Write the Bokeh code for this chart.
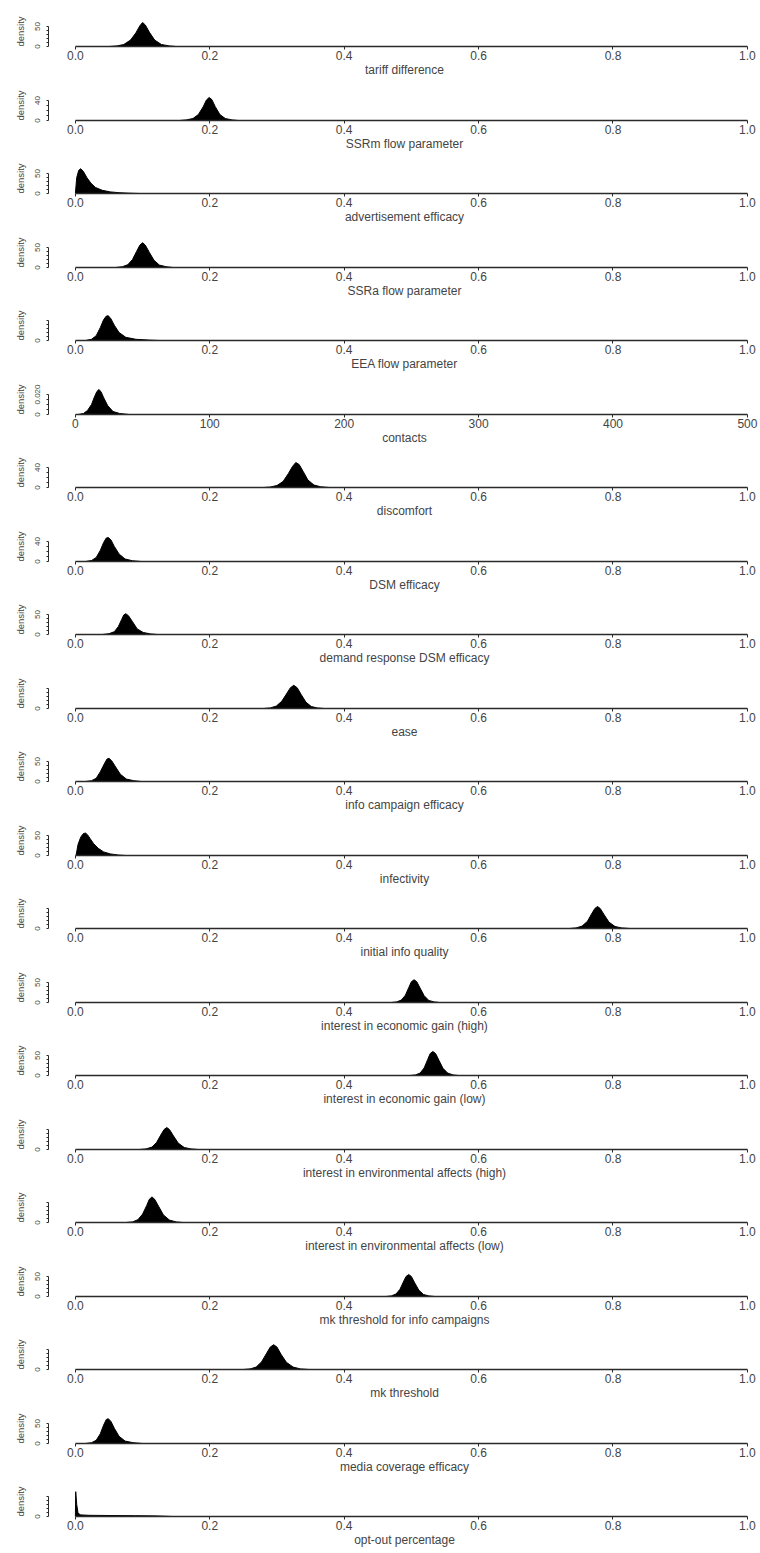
import math
from bokeh.plotting import figure
from bokeh.layouts import column
from bokeh.models import Range1d, FixedTicker
from bokeh.embed import file_html
from bokeh.resources import INLINE

# ---- posterior density estimates for each model parameter ----
tariff_x = [0.050, 0.062, 0.072, 0.082, 0.090, 0.096, 0.100, 0.104, 0.110, 0.118, 0.128, 0.140, 0.150]
tariff_y = [0, 1.5, 5, 16, 34, 52, 60, 54, 36, 16, 5, 1.5, 0]

ssrm_x = [0.155, 0.165, 0.175, 0.183, 0.190, 0.195, 0.199, 0.203, 0.208, 0.215, 0.223, 0.233, 0.243]
ssrm_y = [0, 1.2, 4, 12, 27, 41, 46, 42, 28, 12, 4, 1.2, 0]

advert_x = [0.000, 0.002, 0.005, 0.008, 0.012, 0.017, 0.023, 0.030, 0.040, 0.052, 0.065, 0.080, 0.095]
advert_y = [0, 40, 58, 62, 55, 40, 26, 15, 8, 4, 2, 0.8, 0]

ssra_x = [0.060, 0.070, 0.078, 0.085, 0.091, 0.096, 0.100, 0.104, 0.110, 0.117, 0.125, 0.135, 0.145]
ssra_y = [0, 2, 7, 20, 40, 56, 62, 56, 38, 18, 6, 2, 0]

eea_x = [0.015, 0.024, 0.031, 0.037, 0.042, 0.046, 0.049, 0.053, 0.058, 0.065, 0.075, 0.090, 0.110, 0.125]
eea_y = [0, 3, 12, 32, 52, 61, 62, 54, 38, 20, 8, 3, 1, 0]

contacts_x = [2, 6, 9, 12, 14, 16, 17.5, 19, 21, 24, 28, 33, 40]
contacts_y = [0, 0.001, 0.004, 0.010, 0.017, 0.023, 0.025, 0.023, 0.017, 0.009, 0.003, 0.001, 0]

discomfort_x = [0.280, 0.290, 0.300, 0.309, 0.317, 0.323, 0.328, 0.333, 0.339, 0.346, 0.355, 0.365, 0.378]
discomfort_y = [0, 1, 4, 12, 28, 42, 50, 46, 32, 15, 5, 1.5, 0]

dsm_x = [0.015, 0.024, 0.031, 0.037, 0.042, 0.046, 0.049, 0.053, 0.058, 0.065, 0.074, 0.085, 0.098]
dsm_y = [0, 2, 8, 22, 38, 47, 48, 43, 30, 15, 5, 1.5, 0]

demand_x = [0.040, 0.050, 0.058, 0.064, 0.069, 0.072, 0.075, 0.079, 0.085, 0.092, 0.101, 0.112, 0.122]
demand_y = [0, 2, 7, 20, 38, 49, 52, 47, 32, 14, 5, 1.5, 0]

ease_x = [0.280, 0.290, 0.299, 0.307, 0.314, 0.320, 0.325, 0.330, 0.336, 0.343, 0.351, 0.360, 0.370]
ease_y = [0, 1.5, 6, 18, 36, 52, 58, 52, 35, 16, 5, 1.5, 0]

info_x = [0.015, 0.024, 0.031, 0.037, 0.043, 0.047, 0.050, 0.054, 0.060, 0.067, 0.076, 0.087, 0.098]
info_y = [0, 2, 8, 24, 44, 56, 58, 52, 36, 18, 6, 2, 0]

infect_x = [0.001, 0.004, 0.008, 0.012, 0.015, 0.018, 0.022, 0.027, 0.034, 0.042, 0.052, 0.064, 0.075]
infect_y = [0, 28, 46, 55, 56, 52, 42, 30, 18, 9, 4, 1.2, 0]

quality_x = [0.735, 0.745, 0.754, 0.762, 0.768, 0.773, 0.777, 0.781, 0.787, 0.794, 0.803, 0.813, 0.825]
quality_y = [0, 1.5, 6, 18, 36, 50, 55, 50, 34, 16, 5, 1.5, 0]

econ_high_x = [0.470, 0.478, 0.485, 0.491, 0.496, 0.500, 0.504, 0.508, 0.513, 0.519, 0.526, 0.534, 0.542]
econ_high_y = [0, 1.5, 6, 18, 37, 52, 57, 52, 36, 17, 5, 1.5, 0]

econ_low_x = [0.498, 0.506, 0.513, 0.519, 0.524, 0.528, 0.532, 0.536, 0.541, 0.547, 0.554, 0.562, 0.570]
econ_low_y = [0, 1.5, 6, 19, 39, 55, 60, 55, 38, 18, 6, 1.5, 0]

env_high_x = [0.095, 0.105, 0.114, 0.121, 0.127, 0.132, 0.136, 0.140, 0.146, 0.153, 0.162, 0.172, 0.183]
env_high_y = [0, 1.5, 6, 18, 36, 50, 55, 50, 34, 16, 5, 1.5, 0]

env_low_x = [0.075, 0.085, 0.093, 0.100, 0.106, 0.110, 0.114, 0.118, 0.124, 0.131, 0.140, 0.150, 0.160]
env_low_y = [0, 1.5, 7, 21, 42, 58, 64, 58, 40, 19, 6, 1.5, 0]

mk_info_x = [0.462, 0.470, 0.477, 0.483, 0.488, 0.492, 0.496, 0.500, 0.505, 0.511, 0.518, 0.526, 0.535]
mk_info_y = [0, 1.5, 6, 18, 36, 50, 55, 50, 34, 16, 5, 1.5, 0]

mk_x = [0.250, 0.260, 0.269, 0.277, 0.284, 0.290, 0.295, 0.300, 0.306, 0.314, 0.324, 0.335, 0.348]
mk_y = [0, 1.5, 6, 19, 39, 56, 62, 56, 38, 18, 6, 1.5, 0]

media_x = [0.015, 0.024, 0.031, 0.037, 0.042, 0.046, 0.049, 0.053, 0.058, 0.065, 0.074, 0.086, 0.100]
media_y = [0, 2, 8, 24, 46, 60, 62, 55, 38, 18, 6, 2, 0]

optout_x = [0.000, 0.0005, 0.002, 0.004, 0.008, 0.020, 0.050, 0.090, 0.120, 0.145]
optout_y = [0, 62, 30, 8, 4, 3, 2.5, 2, 1.5, 0]

# axis ticks for the unit-interval parameters and for the contact count
unit_ticks = [0.0, 0.2, 0.4, 0.6, 0.8, 1.0]
unit_labels = ["0.0", "0.2", "0.4", "0.6", "0.8", "1.0"]
contact_ticks = [0, 100, 200, 300, 400, 500]
contact_labels = ["0", "100", "200", "300", "400", "500"]

# parameter label, samples, x scale, y range end, y ticks, y labels shown
panels = [
    ("tariff difference", tariff_x, tariff_y, "unit", 75, [0, 10, 20, 30, 40, 50], {0: "0", 50: "50"}),
    ("SSRm flow parameter", ssrm_x, ssrm_y, "unit", 60, [0, 10, 20, 30, 40], {0: "0", 40: "40"}),
    ("advertisement efficacy", advert_x, advert_y, "unit", 75, [0, 10, 20, 30, 40, 50], {0: "0", 50: "50"}),
    ("SSRa flow parameter", ssra_x, ssra_y, "unit", 75, [0, 10, 20, 30, 40, 50], {0: "0", 50: "50"}),
    ("EEA flow parameter", eea_x, eea_y, "unit", 75, [0, 10, 20, 30, 40, 50], {0: "0"}),
    ("contacts", contacts_x, contacts_y, "contacts", 0.03, [0, 0.005, 0.01, 0.015, 0.02], {0: "0", 0.02: "0.020"}),
    ("discomfort", discomfort_x, discomfort_y, "unit", 60, [0, 10, 20, 30, 40], {0: "0", 40: "40"}),
    ("DSM efficacy", dsm_x, dsm_y, "unit", 60, [0, 10, 20, 30, 40], {0: "0", 40: "40"}),
    ("demand response DSM efficacy", demand_x, demand_y, "unit", 75, [0, 10, 20, 30, 40, 50], {0: "0", 50: "50"}),
    ("ease", ease_x, ease_y, "unit", 75, [0, 10, 20, 30, 40, 50], {0: "0"}),
    ("info campaign efficacy", info_x, info_y, "unit", 75, [0, 10, 20, 30, 40, 50], {0: "0", 50: "50"}),
    ("infectivity", infect_x, infect_y, "unit", 75, [0, 10, 20, 30, 40, 50], {0: "0", 50: "50"}),
    ("initial info quality", quality_x, quality_y, "unit", 75, [0, 10, 20, 30, 40, 50], {0: "0"}),
    ("interest in economic gain (high)", econ_high_x, econ_high_y, "unit", 75, [0, 10, 20, 30, 40, 50], {0: "0", 50: "50"}),
    ("interest in economic gain (low)", econ_low_x, econ_low_y, "unit", 75, [0, 10, 20, 30, 40, 50], {0: "0", 50: "50"}),
    ("interest in environmental affects (high)", env_high_x, env_high_y, "unit", 75, [0, 10, 20, 30, 40, 50], {0: "0"}),
    ("interest in environmental affects (low)", env_low_x, env_low_y, "unit", 75, [0, 10, 20, 30, 40, 50], {0: "0"}),
    ("mk threshold for info campaigns", mk_info_x, mk_info_y, "unit", 75, [0, 10, 20, 30, 40, 50], {0: "0", 50: "50"}),
    ("mk threshold", mk_x, mk_y, "unit", 75, [0, 10, 20, 30, 40, 50], {0: "0"}),
    ("media coverage efficacy", media_x, media_y, "unit", 75, [0, 10, 20, 30, 40, 50], {0: "0", 50: "50"}),
    ("opt-out percentage", optout_x, optout_y, "unit", 75, [0, 10, 20, 30, 40, 50], {0: "0"}),
]

FONT = "Liberation Sans"
TEXT = "#444444"
LINE = "#2a2a2a"
FRAME_H = 30
BOTTOM = 36

figs = []
for i, (label, xs, ys, scale, yend, yticks, ylabels) in enumerate(panels):
    if i == 0:
        h, top = 82, 16
    else:
        h = 74 if i % 2 == 1 else 73
        top = h - BOTTOM - FRAME_H
    if scale == "unit":
        xr = Range1d(-0.04, 1.0195)
        xt, xl, xmax = unit_ticks, unit_labels, 1.0
    else:
        xr = Range1d(-20, 509.75)
        xt, xl, xmax = contact_ticks, contact_labels, 500
    p = figure(width=760, height=h, x_range=xr, y_range=Range1d(0, yend),
               output_backend="svg", toolbar_location=None,
               min_border_left=48, min_border_right=0,
               min_border_top=top, min_border_bottom=BOTTOM)
    p.outline_line_color = None
    p.xgrid.visible = False
    p.ygrid.visible = False
    p.background_fill_color = "white"

    p.varea(x=xs, y1=[0] * len(xs), y2=ys, fill_color="black")
    p.line(x=xs, y=ys, line_color="black", line_width=1)

    xa = p.xaxis[0]
    xa.ticker = FixedTicker(ticks=xt)
    xa.major_label_overrides = {t: s for t, s in zip(xt, xl)}
    xa.bounds = (0, xmax)
    xa.axis_line_color = LINE
    xa.axis_line_width = 1.3
    xa.major_tick_line_color = LINE
    xa.major_tick_out = 3
    xa.major_tick_in = 0
    xa.minor_tick_line_color = None
    xa.major_label_standoff = 1
    xa.major_label_text_font = FONT
    xa.major_label_text_font_size = "12px"
    xa.major_label_text_color = TEXT
    xa.axis_label = label
    xa.axis_label_standoff = 0
    xa.axis_label_text_font = FONT
    xa.axis_label_text_font_size = "12px"
    xa.axis_label_text_font_style = "normal"
    xa.axis_label_text_color = TEXT

    ya = p.yaxis[0]
    ya.ticker = FixedTicker(ticks=yticks)
    ya.major_label_overrides = {t: ylabels.get(t, "") for t in yticks}
    ya.bounds = (0, yticks[-1])
    ya.axis_line_color = LINE
    ya.major_tick_line_color = LINE
    ya.major_tick_out = 2
    ya.major_tick_in = 0
    ya.minor_tick_line_color = None
    ya.major_label_orientation = "parallel"
    ya.major_label_standoff = 7
    ya.major_label_text_font = FONT
    ya.major_label_text_font_size = "8px"
    ya.major_label_text_color = TEXT
    ya.axis_label = "density"
    ya.axis_label_standoff = 6
    ya.axis_label_text_font = FONT
    ya.axis_label_text_font_size = "9.5px"
    ya.axis_label_text_font_style = "normal"
    ya.axis_label_text_color = TEXT
    figs.append(p)

layout = column(*figs, spacing=0)
open("out.html", "w").write(file_html(layout, INLINE))
